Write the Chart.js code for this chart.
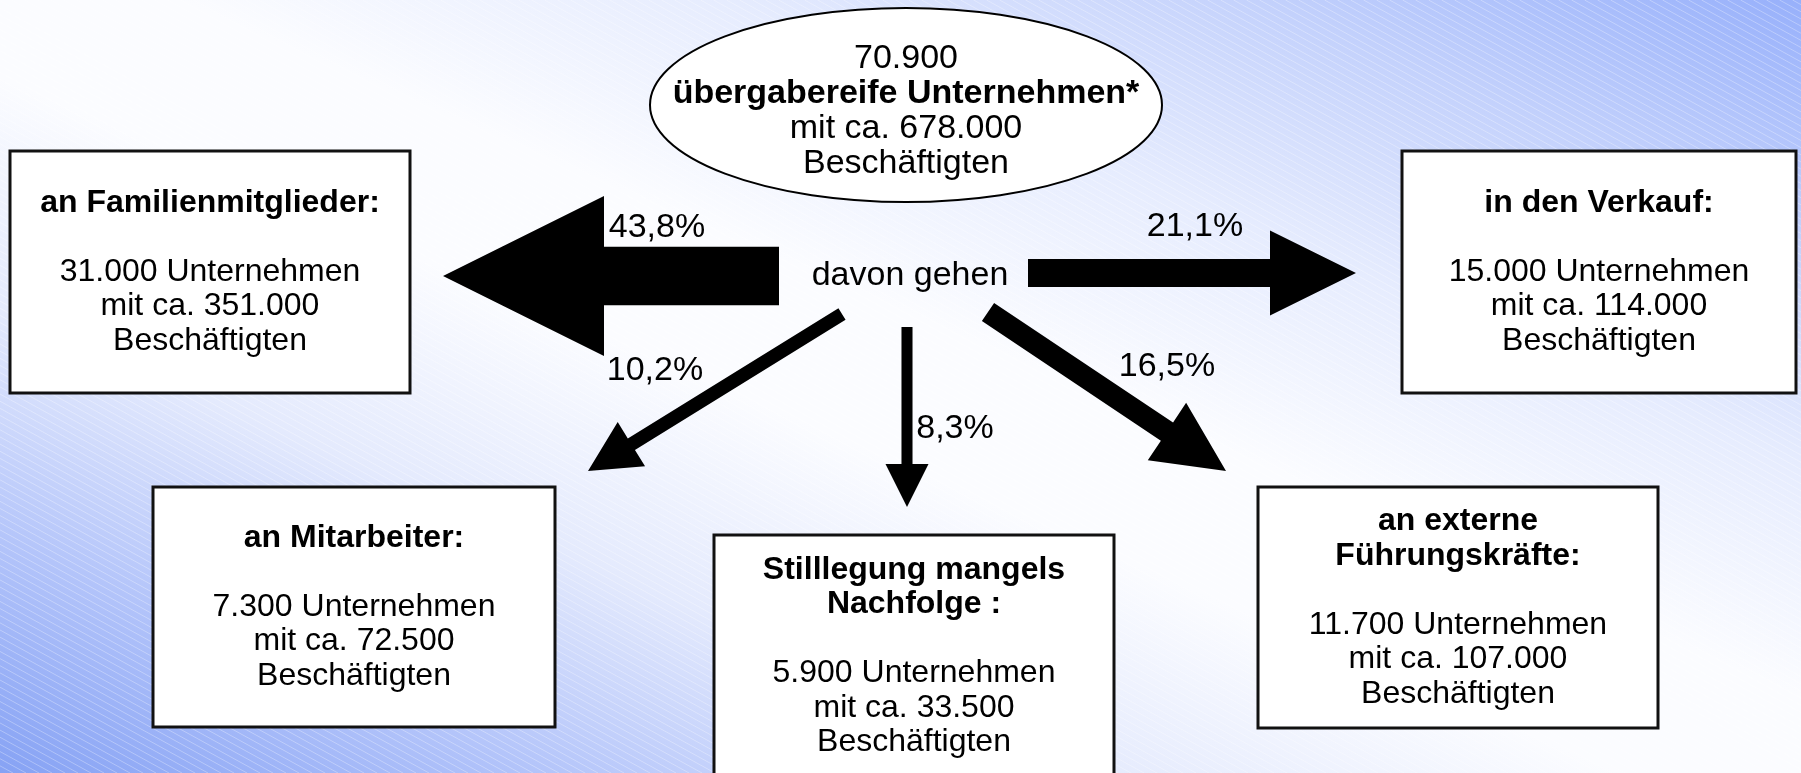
<!DOCTYPE html>
<html>
<head>
<meta charset="utf-8">
<script src="https://cdn.jsdelivr.net/npm/chart.js@4"></script>
<style>
  html, body { margin: 0; padding: 0; background: #fff; overflow: hidden; }
  #wrap { width: 1801px; height: 773px; }
</style>
</head>
<body>
<div id="wrap"><canvas id="flowChart" width="1801" height="773"></canvas></div>
<script>
// Data
const totalCompanies = 70900;
const totalEmployees = 678000;
const centerLabel = "davon gehen";

const nodeTitles = [
  ["an Familienmitglieder:"],
  ["in den Verkauf:"],
  ["an Mitarbeiter:"],
  ["Stilllegung mangels", "Nachfolge :"],
  ["an externe", "Führungskräfte:"]
];
const shares = [43.8, 21.1, 10.2, 8.3, 16.5];
const companies = [31000, 15000, 7300, 5900, 11700];
const employees = [351000, 114000, 72500, 33500, 107000];

// Layout (diagram coordinates, same units as the hidden axes)
const ellipseLayout = { cx: 906, cy: 105, rx: 256, ry: 97, textY: 111 };
const centerPos = [910, 276];
const boxLayout = [
  { l: 10, t: 151, r: 410, b: 393 },
  { l: 1402, t: 151, r: 1796, b: 393 },
  { l: 153, t: 487, r: 555, b: 727 },
  { l: 714, t: 535, r: 1114, b: 777 },
  { l: 1258, t: 487, r: 1658, b: 728 }
];
const arrowLayout = [
  { from: [779, 276], to: [443, 276], head: [160, 161], label: [657, 228] },
  { from: [1028, 273], to: [1356, 273], head: [85, 86], label: [1195, 227] },
  { from: [842, 314], to: [588, 471], head: [52, 51], label: [655, 371] },
  { from: [907, 327], to: [907, 507], head: [43, 43], label: [955, 429] },
  { from: [988, 312], to: [1226, 471], head: [69, 71], label: [1167, 367] }
];
const shaftPerPercent = 1.33;

const FONT = "'Liberation Sans', Arial, Helvetica, sans-serif";
const boxFontSize = 32;
const labelFontSize = 34;
const lineHeight = 34.5;

function fmtNum(n) {
  return String(n).replace(/\B(?=(\d{3})+(?!\d))/g, ".");
}
function fmtPct(p) {
  return p.toFixed(1).replace(".", ",") + "%";
}

// background: diagonal blue-white-blue gradient with faint hatch lines
const backgroundPlugin = {
  id: "bg",
  beforeDraw(chart) {
    const ctx = chart.ctx;
    const W = chart.width, H = chart.height;
    const L = Math.sqrt(W * W + H * H);
    const half = W * H / L;
    const ux = H / L, uy = -W / L;
    const g = ctx.createLinearGradient(W / 2 - half * ux, H / 2 - half * uy, W / 2 + half * ux, H / 2 + half * uy);
    g.addColorStop(0, "#86a2f4");
    g.addColorStop(0.15, "#b3c4fa");
    g.addColorStop(0.3, "#e4eafd");
    g.addColorStop(0.45, "#fbfcff");
    g.addColorStop(0.55, "#fbfcff");
    g.addColorStop(0.7, "#e6ecfe");
    g.addColorStop(0.85, "#c3d1fc");
    g.addColorStop(1, "#97b0fb");
    ctx.save();
    ctx.fillStyle = g;
    ctx.fillRect(0, 0, W, H);
    // hatch
    ctx.strokeStyle = "rgba(255,255,255,0.3)";
    ctx.lineWidth = 1;
    const slope = 0.55;
    ctx.beginPath();
    for (let c = -H / slope; c < W; c += 13) {
      ctx.moveTo(c, 0);
      ctx.lineTo(c + H / slope, H);
    }
    ctx.stroke();
    ctx.restore();
  }
};

const diagramPlugin = {
  id: "diagram",
  afterDraw(chart) {
    const ctx = chart.ctx;
    const xs = chart.scales.x, ys = chart.scales.y;
    const px = v => xs.getPixelForValue(v);
    const py = v => ys.getPixelForValue(v);
    const unit = px(1) - px(0);

    ctx.save();
    ctx.textAlign = "center";
    ctx.textBaseline = "middle";
    ctx.fillStyle = "#000";

    // arrows
    arrowLayout.forEach((a, i) => {
      const x0 = px(a.from[0]), y0 = py(a.from[1]);
      const x1 = px(a.to[0]), y1 = py(a.to[1]);
      const len = Math.hypot(x1 - x0, y1 - y0);
      const dx = (x1 - x0) / len, dy = (y1 - y0) / len;
      const nx = -dy, ny = dx;
      const w = shares[i] * shaftPerPercent * unit / 2;
      const hw = a.head[0] * unit / 2;
      const hl = a.head[1] * unit;
      const bx = x1 - dx * hl, by = y1 - dy * hl;
      ctx.beginPath();
      ctx.moveTo(x0 + nx * w, y0 + ny * w);
      ctx.lineTo(bx + nx * w, by + ny * w);
      ctx.lineTo(bx + nx * hw, by + ny * hw);
      ctx.lineTo(x1, y1);
      ctx.lineTo(bx - nx * hw, by - ny * hw);
      ctx.lineTo(bx - nx * w, by - ny * w);
      ctx.lineTo(x0 - nx * w, y0 - ny * w);
      ctx.closePath();
      ctx.fill();

      ctx.font = labelFontSize + "px " + FONT;
      ctx.fillText(fmtPct(shares[i]), px(a.label[0]), py(a.label[1]));
    });

    // centre label
    ctx.font = labelFontSize + "px " + FONT;
    ctx.fillText(centerLabel, px(centerPos[0]), py(centerPos[1]));

    // ellipse
    const e = ellipseLayout;
    ctx.beginPath();
    ctx.ellipse(px(e.cx), py(e.cy), e.rx * unit, e.ry * unit, 0, 0, Math.PI * 2);
    ctx.fillStyle = "#fff";
    ctx.fill();
    ctx.lineWidth = 2;
    ctx.strokeStyle = "#000";
    ctx.stroke();
    const eLines = [
      [fmtNum(totalCompanies), false],
      ["übergabereife Unternehmen*", true],
      ["mit ca. " + fmtNum(totalEmployees), false],
      ["Beschäftigten", false]
    ];
    ctx.fillStyle = "#000";
    eLines.forEach((ln, k) => {
      ctx.font = (ln[1] ? "bold " : "") + labelFontSize + "px " + FONT;
      const y = e.textY + (k - (eLines.length - 1) / 2) * 35;
      ctx.fillText(ln[0], px(e.cx), py(y));
    });

    // boxes
    boxLayout.forEach((b, i) => {
      const x = px(b.l), y = py(b.t), w = px(b.r) - x, h = py(b.b) - y;
      ctx.fillStyle = "#fff";
      ctx.fillRect(x, y, w, h);
      ctx.lineWidth = 3;
      ctx.strokeStyle = "#111";
      ctx.strokeRect(x, y, w, h);

      const lines = [];
      nodeTitles[i].forEach(t => lines.push([t, true]));
      lines.push(["", false]);
      lines.push([fmtNum(companies[i]) + " Unternehmen", false]);
      lines.push(["mit ca. " + fmtNum(employees[i]), false]);
      lines.push(["Beschäftigten", false]);
      const cy = (b.t + b.b) / 2;
      const cx = (b.l + b.r) / 2;
      ctx.fillStyle = "#000";
      lines.forEach((ln, k) => {
        if (!ln[0]) return;
        ctx.font = (ln[1] ? "bold " : "") + boxFontSize + "px " + FONT;
        const ly = cy + (k - (lines.length - 1) / 2) * lineHeight;
        ctx.fillText(ln[0], px(cx), py(ly));
      });
    });

    ctx.restore();
  }
};

const ctx = document.getElementById("flowChart").getContext("2d");
new Chart(ctx, {
  type: "scatter",
  data: {
    datasets: [{
      label: "Knoten",
      data: boxLayout.map(b => ({ x: (b.l + b.r) / 2, y: (b.t + b.b) / 2 })),
      pointRadius: 0
    }]
  },
  options: {
    responsive: false,
    animation: false,
    devicePixelRatio: 1,
    layout: { padding: 0 },
    events: [],
    plugins: { legend: { display: false }, tooltip: { enabled: false } },
    scales: {
      x: { type: "linear", min: 0, max: 1801, display: false },
      y: { type: "linear", min: 0, max: 773, reverse: true, display: false }
    }
  },
  plugins: [backgroundPlugin, diagramPlugin]
});
</script>
</body>
</html>
